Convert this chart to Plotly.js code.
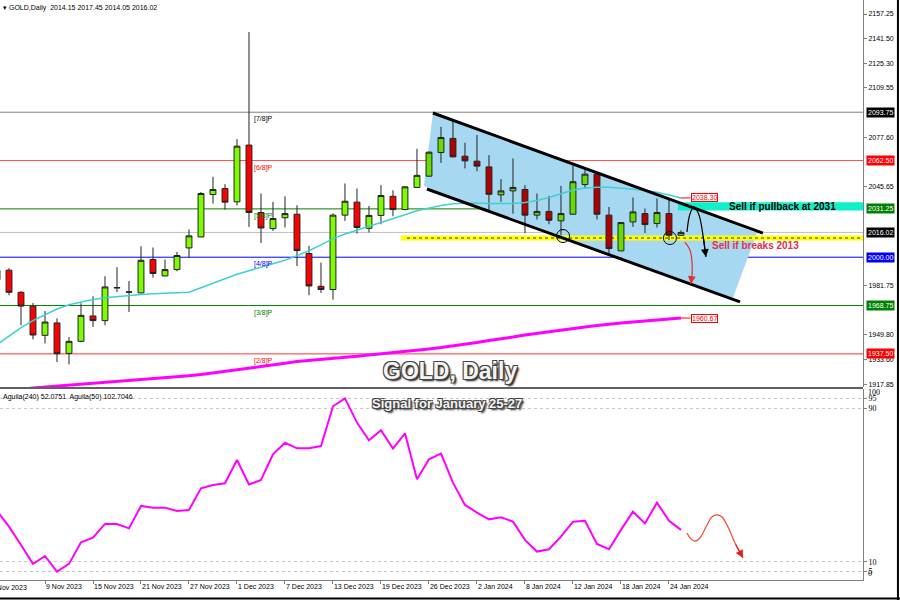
<!DOCTYPE html>
<html><head><meta charset="utf-8">
<script src="https://cdn.plot.ly/plotly-3.0.1.min.js"></script>
<style>html,body{margin:0;padding:0;background:#fff}#chart{width:900px;height:600px}</style>
</head><body><div id="chart"></div>
<script>
// ---------- data ----------
const dates = ['2023-11-03','2023-11-06','2023-11-07','2023-11-08','2023-11-09','2023-11-10','2023-11-13','2023-11-14','2023-11-15','2023-11-16',
'2023-11-17','2023-11-20','2023-11-21','2023-11-22','2023-11-23','2023-11-24','2023-11-27','2023-11-28','2023-11-29','2023-11-30',
'2023-12-01','2023-12-04','2023-12-05','2023-12-06','2023-12-07','2023-12-08','2023-12-11','2023-12-12','2023-12-13','2023-12-14',
'2023-12-15','2023-12-18','2023-12-19','2023-12-20','2023-12-21','2023-12-22','2023-12-26','2023-12-27','2023-12-28','2023-12-29',
'2024-01-02','2024-01-03','2024-01-04','2024-01-05','2024-01-08','2024-01-09','2024-01-10','2024-01-11','2024-01-12','2024-01-15',
'2024-01-16','2024-01-17','2024-01-18','2024-01-19','2024-01-22','2024-01-23','2024-01-24','2024-01-25'];
const openP = [1985.5,1991.6,1977.3,1968.3,1949.5,1957.5,1937.8,1945.6,1962.0,1959.0,
1980.4,1977.6,1976.9,1998.5,1987.9,1992.0,2006.0,2013.1,2040.5,2044.4,
2035.8,2072.5,2028.9,2018.5,2025.5,2027.8,2002.4,1981.2,1979.1,2027.2,
2035.6,2018.7,2027.0,2039.4,2030.8,2045.1,2052.4,2067.7,2076.8,2065.3,
2062.1,2058.4,2040.3,2042.9,2043.8,2027.2,2029.6,2023.5,2027.8,2047.0,
2053.7,2027.2,2004.1,2022.8,2028.2,2021.8,2028.2,2014.15];
const highP = [2004.0,1992.9,1978.0,1970.4,1965.2,1960.5,1948.4,1970.2,1974.7,1987.7,
1993.5,1984.6,2007.1,2006.3,1998.5,2003.4,2017.9,2042.2,2052.0,2047.2,
2076.3,2145.6,2041.2,2035.8,2039.4,2033.6,2007.3,1996.5,2028.4,2047.7,
2044.4,2033.2,2046.6,2043.3,2045.9,2070.1,2068.3,2084.3,2088.6,2074.0,
2079.0,2066.0,2050.5,2063.9,2046.6,2041.2,2039.6,2046.1,2059.5,2057.4,
2054.3,2032.5,2022.6,2038.6,2031.5,2038.0,2038.0,2017.45];
const lowP = [1983.0,1975.4,1956.0,1946.9,1944.3,1932.2,1930.7,1945.0,1954.9,1956.0,
1977.5,1964.6,1976.7,1986.8,1987.7,1990.9,1999.8,2012.9,2034.7,2030.8,
2033.4,2019.6,2009.2,2017.0,2019.2,1994.3,1975.4,1976.9,1972.6,2023.5,
2015.3,2016.0,2021.3,2026.5,2030.4,2045.1,2052.1,2061.0,2064.5,2057.4,
2055.6,2030.4,2035.8,2028.2,2015.7,2024.4,2021.3,2014.2,2027.5,2044.4,
2024.4,2002.4,2003.9,2019.6,2015.7,2019.2,2011.0,2014.05];
const closeP = [1991.5,1977.3,1968.4,1949.7,1958.1,1937.6,1945.6,1962.4,1959.0,1980.8,
1980.2,1977.4,1998.0,1989.5,1992.0,2001.1,2013.8,2041.2,2043.8,2035.6,
2071.8,2028.9,2018.9,2025.0,2028.2,2004.3,1981.4,1979.1,2027.2,2036.2,
2019.2,2027.0,2039.9,2030.8,2045.5,2052.9,2067.9,2077.4,2064.9,2062.3,
2058.9,2040.7,2042.9,2045.1,2027.2,2029.6,2023.9,2028.2,2048.8,2053.7,
2027.8,2005.6,2022.4,2029.3,2021.1,2028.9,2014.2,2016.02];
const maFast = [1943.5,1949.0,1954.5,1959.0,1963.0,1966.5,1969.3,1971.2,1972.7,1973.8,
1974.6,1975.3,1975.9,1976.4,1976.8,1977.1,1977.4,1980.2,1983.1,1986.0,
1989.0,1991.3,1993.6,1995.6,1998.0,2001.0,2004.2,2008.0,2012.0,2015.0,
2017.6,2020.1,2022.6,2025.0,2027.5,2030.0,2032.0,2033.5,2034.5,2035.0,
2035.1,2034.8,2034.6,2034.8,2035.3,2036.6,2038.6,2041.1,2043.5,2044.7,
2045.3,2045.3,2044.8,2044.0,2043.1,2042.0,2040.2,2038.3];
const maSlow = [1912.9,1913.5,1914.5,1915.5,1916.1,1916.8,1917.4,1918.0,1918.5,1918.9,
1919.4,1919.9,1920.6,1921.2,1921.8,1922.5,1923.3,1924.1,1925.1,1926.2,
1927.4,1928.4,1929.3,1930.3,1931.4,1932.6,1933.2,1933.9,1934.3,1935.2,
1935.9,1936.8,1937.5,1938.3,1939.1,1939.8,1940.7,1941.6,1942.6,1943.6,
1944.9,1946.2,1947.1,1948.4,1949.7,1950.8,1952.0,1953.0,1953.9,1954.9,
1955.9,1956.8,1957.5,1958.1,1958.8,1959.4,1960.1,1960.67];
const aguila = [36.4,28.3,18.7,8.9,13.0,4.9,8.9,20.1,22.6,29.7,
29.7,27.4,39.1,38.2,38.2,36.5,37.0,48.3,50.0,50.9,
63.0,50.3,52.6,66.0,72.0,69.1,69.1,70.3,91.0,95.1,
82.5,73.3,78.5,69.0,76.9,53.0,63.4,66.3,51.2,39.6,
35.6,32.1,33.2,30.9,21.4,15.3,16.5,23.1,30.9,31.4,
19.3,16.5,26.6,36.1,30.0,40.8,31.4,26.6];

const tickDates = ['2023-11-09','2023-11-15','2023-11-21','2023-11-27','2023-12-01','2023-12-07','2023-12-13','2023-12-19','2023-12-26','2024-01-02','2024-01-08','2024-01-12','2024-01-18','2024-01-24'];
const tickLabels = ['9 Nov 2023','15 Nov 2023','21 Nov 2023','27 Nov 2023','1 Dec 2023','7 Dec 2023','13 Dec 2023','19 Dec 2023','26 Dec 2023','2 Jan 2024','8 Jan 2024','12 Jan 2024','18 Jan 2024','24 Jan 2024'];
const priceTicks = [2157.25,2141.50,2125.30,2109.55,2077.60,2045.65,1981.75,1949.80,1933.60,1917.85];

const mmLevels = [2093.75,2062.50,2031.25,2000.00,1968.75,1937.50];
const mmLabels = ['[7/8]P','[6/8]P','[5/8]P','[4/8]P','[3/8]P','[2/8]P'];
const mmColors = ['#808080','#FF5050','#008000','#0000FF','#008000','#FF3030'];
const mmTextColors = ['#000000','#FF0000','#008000','#0000FF','#008000','#FF0000'];
const boxLevels = [2093.75,2062.50,2031.25,2016.02,2000.00,1968.75,1937.50];
const boxColors = ['#000000','#FF0000','#008000','#000000','#0000FF','#008000','#FF0000'];
const lastPrice = 2016.02;

const channelUpperX = [36.33,63.83], channelUpperY = [2093.25,2015.6];
const channelLowerX = [35.83,61.92], channelLowerY = [2044.1,1971.1];
const channelFillX = [36.33,63.33,61.33,35.58], channelFillY = [2093.25,2015.6,1973.6,2046.1];
const breakBand = [2010.8,2014.1], breakLine = 2012.4, breakStart = 33.67;
const pullbackBand = [2030.2,2035.5], pullbackStart = 56.75;
const circlesX = [47.17,56.08], circlesY = [2013.7,2012.4];
const blackArrowX = [57.5,57.75,58.08,58.5,58.83,59.08], blackArrowY = [2016.3,2027.9,2032.5,2027.3,2014.4,2000.2];
const redArrowX = [57.33,57.75,57.92,57.92,57.83], redArrowY = [2009.8,2004.7,1996.9,1988.5,1982.7];
const fcX = [57.5,57.83,58.17,58.58,59.08,59.58,60.0,60.42,60.92,61.5,62.17];
const fcY = [25.0,21.9,20.8,22.4,28.1,33.3,34.4,33.3,28.1,19.8,12.0];
const maFastLast = 2038.30, maSlowLast = 1960.67;

// ---------- build ----------
const pos = dates.map((_, i) => i);
const split = dates.indexOf('2023-12-26');
const X0 = 0.25, X1 = 72.17;
const F = 'Liberation Sans, Arial, sans-serif';

function candles(a, b, up, down) {
  return {type:'candlestick', x:pos.slice(a,b), open:openP.slice(a,b), high:highP.slice(a,b), low:lowP.slice(a,b), close:closeP.slice(a,b),
    increasing:{line:{color:'#222', width:1}, fillcolor:up}, decreasing:{line:{color:'#222', width:1}, fillcolor:down},
    whiskerwidth:0, hoverinfo:'skip', showlegend:false, xaxis:'x', yaxis:'y'};
}

const traces = [
  candles(0, split, '#7CFC00', '#FF0000'),
  candles(split, dates.length, '#66DD00', '#B00000'),
  {type:'scatter', mode:'lines', x:pos, y:maFast, line:{color:'#40D0D0', width:1.5}, hoverinfo:'skip'},
  {type:'scatter', mode:'lines', x:pos, y:maSlow, line:{color:'#FF00FF', width:3}, hoverinfo:'skip'},
  {type:'scatter', mode:'lines', x:channelUpperX, y:channelUpperY, line:{color:'#000', width:3}, hoverinfo:'skip'},
  {type:'scatter', mode:'lines', x:channelLowerX, y:channelLowerY, line:{color:'#000', width:3}, hoverinfo:'skip'},
  {type:'scatter', mode:'lines', x:blackArrowX, y:blackArrowY, line:{color:'#000', width:1.2, shape:'spline'}, hoverinfo:'skip'},
  {type:'scatter', mode:'lines', x:redArrowX, y:redArrowY, line:{color:'#E03030', width:1.2, shape:'spline'}, hoverinfo:'skip'},
  {type:'scatter', mode:'lines', x:pos, y:aguila, xaxis:'x', yaxis:'y2', line:{color:'#FF00FF', width:2}, hoverinfo:'skip'},
  {type:'scatter', mode:'lines', x:fcX, y:fcY, xaxis:'x', yaxis:'y2', line:{color:'#F04A2A', width:1.2, shape:'spline'}, hoverinfo:'skip'}
];

const shapes = [];
shapes.push({type:'path', xref:'x', yref:'y', layer:'below', line:{width:0}, fillcolor:'#A6D8F2',
  path:'M' + channelFillX.map((x,i)=>x+','+channelFillY[i]).join('L') + 'Z'});
shapes.push({type:'rect', xref:'x', yref:'y', layer:'below', x0:breakStart, x1:X1, y0:breakBand[0], y1:breakBand[1], fillcolor:'#FFFF00', line:{width:0}});
shapes.push({type:'rect', xref:'x', yref:'y', layer:'below', x0:pullbackStart, x1:X1, y0:pullbackBand[0], y1:pullbackBand[1], fillcolor:'#10F0C8', line:{width:0}});
mmLevels.forEach((v,i)=>shapes.push({type:'line', xref:'paper', yref:'y', layer:'below', x0:0, x1:1, y0:v, y1:v, line:{color:mmColors[i], width:1}}));
shapes.push({type:'line', xref:'paper', yref:'y', layer:'below', x0:0, x1:1, y0:lastPrice, y1:lastPrice, line:{color:'#C0C0C0', width:1}});
shapes.push({type:'line', xref:'x', yref:'y', layer:'below', x0:breakStart+0.5, x1:X1, y0:breakLine, y1:breakLine, line:{color:'#333', width:1, dash:'dot'}});
circlesX.forEach((x,i)=>shapes.push({type:'circle', xref:'x', yref:'y', xsizemode:'pixel', ysizemode:'pixel', xanchor:x, yanchor:circlesY[i], x0:-6.5, x1:6.5, y0:-6.5, y1:6.5, line:{color:'#000', width:1}}));
[maFastLast, maSlowLast].forEach(v=>shapes.push({type:'line', xref:'x', yref:'y', x0:pos[pos.length-1], x1:pos[pos.length-1]+0.8, y0:v, y1:v, line:{color:'#FF0000', width:1}}));
shapes.push({type:'line', xref:'paper', yref:'paper', x0:0, x1:1.0, y0:0.3310, y1:0.3310, line:{color:'#606060', width:2}});
shapes.push({type:'line', xref:'paper', yref:'paper', x0:1.0405, x1:1.0405, y0:-0.0345, y1:1, line:{color:'#000', width:2}});
shapes.push({type:'line', xref:'paper', yref:'paper', x0:0, x1:1.0429, y0:-0.0318, y1:-0.0318, line:{color:'#000', width:2}});

const annotations = [];
const small = {family:F, size:7, color:'#000'};
annotations.push({xref:'paper', yref:'paper', x:0, y:1, xanchor:'left', yanchor:'top', yshift:-2, xshift:1, showarrow:false,
  text:'▾ GOLD,Daily  2014.15 2017.45 2014.05 2016.02', font:small});
annotations.push({xref:'paper', yref:'y2 domain', x:0, y:1, xanchor:'left', yanchor:'top', yshift:-2, xshift:1, showarrow:false,
  text:'Aguila(240) 52.0751  Aguila(50) 102.7046', font:small});
annotations.push({xref:'paper', yref:'paper', x:0, y:0, xanchor:'left', yanchor:'top', xshift:-11, yshift:-2, showarrow:false,
  text:'3 Nov 2023', font:small});
mmLevels.forEach((v,i)=>annotations.push({xref:'x', yref:'y', x:21.25, y:v, xanchor:'left', yanchor:'top', yshift:-1, showarrow:false,
  text:mmLabels[i], font:{family:F, size:7, color:mmTextColors[i]}}));
boxLevels.forEach((v,i)=>annotations.push({xref:'paper', yref:'y', x:1, y:v, xanchor:'left', xshift:3, showarrow:false,
  text:v.toFixed(2), bgcolor:boxColors[i], borderpad:1, font:{family:F, size:7, color:'#FFF'}}));
[maFastLast, maSlowLast].forEach(v=>annotations.push({xref:'x', yref:'y', x:pos[pos.length-1]+0.8, y:v, xanchor:'left', showarrow:false,
  text:v.toFixed(2), bgcolor:'#FFF', bordercolor:'#FF0000', borderwidth:1, borderpad:0, font:{family:F, size:7, color:'#FF0000'}}));
annotations.push({xref:'paper', yref:'y2', x:1, y:98, xanchor:'left', xshift:3, showarrow:false, text:'100', font:{family:'Liberation Serif, serif', size:8, color:'#000'}});
annotations.push({xref:'paper', yref:'y2', x:1, y:0.5, xanchor:'left', yanchor:'bottom', xshift:3, showarrow:false, text:'0', font:{family:'Liberation Serif, serif', size:8, color:'#000'}});
annotations.push({xref:'x', yref:'y', x:65.45, y:(pullbackBand[0]+pullbackBand[1])/2, showarrow:false, text:'Sell if pullback at 2031',
  font:{family:F, size:10, color:'#000', weight:'bold'}});
annotations.push({xref:'x', yref:'y', x:63.25, y:2007.6, showarrow:false, text:'Sell if breaks 2013',
  font:{family:F, size:10, color:'#E0304A', weight:'bold'}});
const outline = '-1px -1px 0 #444, 1px -1px 0 #444, -1px 1px 0 #444, 1px 1px 0 #444, 2px 2px 2px #111';
annotations.push({xref:'x', yref:'y', x:37.75, y:1926.5, showarrow:false, text:'GOLD, Daily',
  font:{family:F, size:23, color:'#F4F4F4', weight:'bold', shadow:outline}});
annotations.push({xref:'x', yref:'y2', x:37.5, y:92.7, showarrow:false, text:'Signal for January 25-27',
  font:{family:F, size:13, color:'#F4F4F4', weight:'bold', shadow:outline}});
function head(xs, ys, col, axis) {
  const n = xs.length;
  return {xref:'x', yref:axis, axref:'x', ayref:axis, x:xs[n-1], y:ys[n-1], ax:xs[n-2], ay:ys[n-2], showarrow:true,
    arrowhead:2, arrowsize:1.3, arrowwidth:1.2, arrowcolor:col, text:''};
}
annotations.push(head(blackArrowX, blackArrowY, '#000', 'y'));
annotations.push(head(redArrowX, redArrowY, '#E03030', 'y'));
annotations.push(head(fcX, fcY, '#E02020', 'y2'));

const tickPos = tickDates.map(d => dates.indexOf(d));
const layout = {
  width:900, height:600, margin:{l:0, r:37, t:0, b:20}, paper_bgcolor:'#FFFFFF', plot_bgcolor:'#FFFFFF', showlegend:false,
  boxmode:'overlay', boxgap:0.3, hovermode:false,
  xaxis:{range:[X0,X1], anchor:'y2', showgrid:false, zeroline:false, showline:true, linecolor:'#808080', linewidth:1,
    ticks:'outside', ticklen:3, tickcolor:'#808080', tickvals:tickPos, ticktext:tickLabels, ticklabelposition:'outside right',
    tickangle:0, tickfont:small, rangeslider:{visible:false}, fixedrange:true, automargin:false},
  yaxis:{domain:[0.3328,1], range:[1916.1,2166.3], side:'right', anchor:'x', showgrid:false, zeroline:false, showline:true,
    linecolor:'#808080', ticks:'outside', ticklen:3, tickcolor:'#808080', tickvals:priceTicks, ticktext:priceTicks.map(v=>v.toFixed(2)),
    tickfont:small, automargin:false, fixedrange:true},
  yaxis2:{domain:[0,0.3293], range:[0.5,100], side:'right', anchor:'x', showgrid:true, gridcolor:'#C8C8C8', griddash:'dot', zeroline:false,
    showline:true, linecolor:'#808080', ticks:'outside', ticklen:3, tickcolor:'#808080', tickvals:[5,10,90,95], ticktext:['5','10','90','95'],
    tickfont:{family:'Liberation Serif, serif', size:8, color:'#000'}, automargin:false, fixedrange:true},
  shapes:shapes, annotations:annotations
};
Plotly.newPlot('chart', traces, layout, {staticPlot:true, displayModeBar:false});
</script></body></html>
